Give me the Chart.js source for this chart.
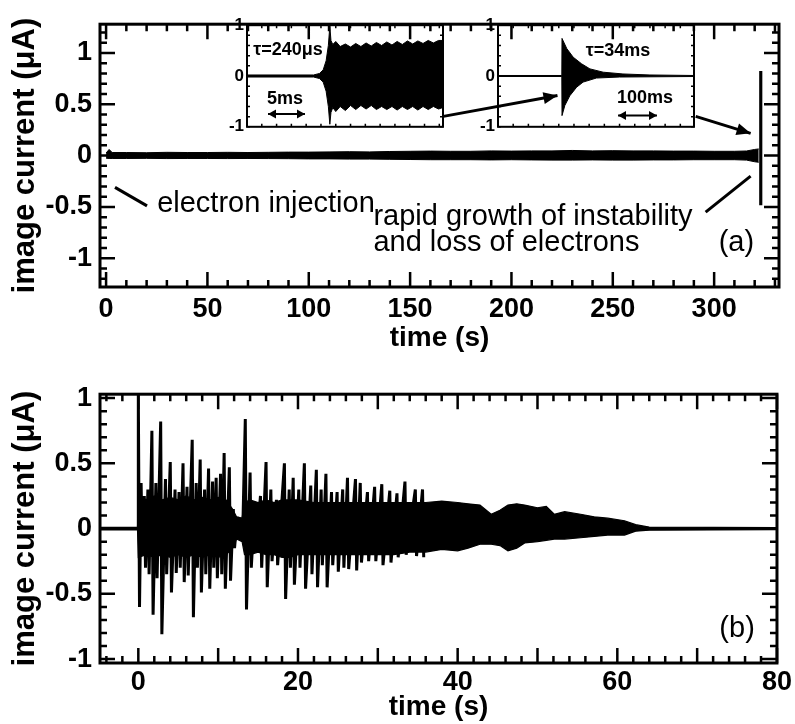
<!DOCTYPE html>
<html>
<head>
<meta charset="utf-8">
<script src="https://cdn.jsdelivr.net/npm/chart.js@4.4.1/dist/chart.umd.min.js"></script>
<style>
  html, body { margin: 0; padding: 0; background: #fff; }
  #wrap { position: relative; width: 795px; height: 724px; }
  canvas { position: absolute; }
</style>
</head>
<body>
<div id="wrap">
  <canvas id="runChart" width="795" height="365" style="left:0;top:0"></canvas>
  <canvas id="onsetInset" width="240" height="128" style="left:213px;top:12px"></canvas>
  <canvas id="lossInset" width="240" height="128" style="left:464px;top:12px"></canvas>
  <canvas id="decayChart" width="795" height="354" style="left:0;top:370px"></canvas>
</div>
<script>
// (a) whole run: envelope of the image current, then the final burst
const runTime  = [0, 1.5, 3, 10, 20, 30, 40, 50, 60, 70, 80, 90, 100, 110, 120, 130, 140, 150, 160, 170, 180, 190, 200, 210, 220, 230, 240, 250, 260, 270, 280, 290, 300, 310, 316, 320, 322];
const runUpper = [0.025, 0.06, 0.03, 0.03, 0.028, 0.032, 0.03, 0.03, 0.032, 0.03,
                  0.032, 0.034, 0.034, 0.036, 0.038, 0.036, 0.04, 0.042, 0.044, 0.042,
                  0.042, 0.046, 0.044, 0.046, 0.046, 0.05, 0.046, 0.048, 0.046, 0.046,
                  0.044, 0.044, 0.042, 0.042, 0.045, 0.06, 0.065];
const runLower = [-0.025, -0.028, -0.028, -0.028, -0.027, -0.029, -0.028, -0.028, -0.029, -0.028,
                  -0.029, -0.03, -0.032, -0.032, -0.034, -0.034, -0.036, -0.038, -0.04, -0.04,
                  -0.04, -0.042, -0.04, -0.042, -0.044, -0.044, -0.042, -0.044, -0.044, -0.042,
                  -0.042, -0.04, -0.04, -0.04, -0.044, -0.06, -0.065];
const burstTime  = 323;
const burstRange = [-0.48, 0.82];
const runTicks     = [0, 50, 100, 150, 200, 250, 300];
const currentTicks = [-1, -0.5, 0, 0.5, 1];

// inset: onset of the oscillation (time in ms)
const onsetTime  = [0, 9.0, 9.8, 10.3, 10.7, 11.0, 11.2, 11.35, 11.6, 12.0, 12.6, 13.3, 14.0, 14.7, 15.4, 16.1, 16.8, 17.5, 18.2, 18.9, 19.6, 20.3, 21.0, 21.7, 22.4, 23.1, 23.8, 24.5, 25.2, 25.9, 26.5];
const onsetUpper = [0.02, 0.02, 0.05, 0.12, 0.3, 0.6, 0.98, 0.7, 0.62, 0.68, 0.58, 0.63, 0.57, 0.64, 0.58, 0.65, 0.59, 0.66, 0.6, 0.67, 0.61, 0.68, 0.62, 0.69, 0.63, 0.69, 0.64, 0.7, 0.65, 0.7, 0.7];
const onsetLower = [-0.02, -0.02, -0.05, -0.12, -0.3, -0.6, -0.95, -0.72, -0.62, -0.7, -0.6, -0.68, -0.58, -0.66, -0.58, -0.65, -0.58, -0.66, -0.6, -0.66, -0.6, -0.67, -0.6, -0.66, -0.6, -0.67, -0.6, -0.66, -0.6, -0.65, -0.62];

// inset: burst at the end of the run (time in ms)
const lossUpperTime = [0, 168, 168.5, 181, 198, 220, 242, 277, 329, 400, 516];
const lossUpper     = [0.01, 0.01, 0.74, 0.54, 0.37, 0.24, 0.14, 0.075, 0.04, 0.02, 0.01];
const lossLowerTime = [0, 168, 168.5, 176, 189, 207, 224, 259, 320, 516];
const lossLower     = [-0.01, -0.01, -0.78, -0.58, -0.39, -0.22, -0.12, -0.04, -0.02, -0.01];
const insetTicks    = [-1, 0, 1];

// (b) decay after injection: dense core envelope ...
const decayTime  = [-4.8, -0.1, 0, 1, 2, 3, 4, 5, 6, 7, 8, 9, 10, 11, 11.8, 12.3, 13, 13.3,
                    14, 15, 16, 17, 18, 19, 20, 22, 24, 26, 28, 30, 32, 34, 36, 38, 40,
                    41.3, 42.8, 44.2, 45.3, 46.3, 47.4, 48.4, 50, 51.1, 52.1, 53.4, 55.4, 57.1, 58.8, 60.9, 62.3, 64, 80];
const decayUpper = [0.01, 0.01, 0.25, 0.22, 0.25, 0.22, 0.24, 0.22, 0.25, 0.22, 0.24, 0.22, 0.24, 0.22, 0.15, 0.09, 0.08, 0.2,
                    0.22, 0.2, 0.22, 0.2, 0.22, 0.22, 0.22, 0.2, 0.2, 0.2, 0.2, 0.2, 0.2, 0.2, 0.2, 0.21, 0.2,
                    0.19, 0.18, 0.11, 0.14, 0.18, 0.19, 0.18, 0.16, 0.17, 0.11, 0.13, 0.11, 0.09, 0.08, 0.06, 0.03, 0.012, 0.008];
const decayLower = [-0.01, -0.01, -0.22, -0.2, -0.22, -0.2, -0.22, -0.2, -0.22, -0.2, -0.22, -0.2, -0.22, -0.2, -0.15, -0.08, -0.1, -0.2,
                    -0.2, -0.18, -0.2, -0.2, -0.22, -0.22, -0.2, -0.2, -0.2, -0.2, -0.2, -0.2, -0.2, -0.18, -0.18, -0.16, -0.17,
                    -0.15, -0.12, -0.12, -0.13, -0.17, -0.15, -0.11, -0.1, -0.09, -0.08, -0.08, -0.07, -0.06, -0.05, -0.05, -0.02, -0.012, -0.008];
// ... and the individual swings: maximum and minimum of each visible cycle
const spikeTime = [0, 0.35, 0.75, 1.2, 1.7, 2.2, 2.8, 3.4, 4.0, 4.6,
                   5.1, 5.6, 6.1, 6.75, 7.25, 7.75, 8.3, 8.8, 9.3, 9.75,
                   10.3, 10.75, 11.4, 11.9, 12.4, 12.9, 13.4, 14.0, 14.6, 15.3,
                   16.0, 16.6, 17.3, 18.3, 18.9, 19.4, 20.1, 20.8, 21.6, 22.3,
                   22.9, 23.5, 24.2, 24.9, 25.6, 26.2, 27.2, 27.8, 28.7, 29.6,
                   30.5, 31.5, 32.4, 33.4, 34.7, 35.6];
const spikeHigh = [1.03, 0.35, 0.25, 0.3, 0.75, 0.35, 0.82, 0.38, 0.51, 0.3,
                   0.28, 0.5, 0.32, 0.68, 0.35, 0.53, 0.3, 0.46, 0.36, 0.39,
                   0.42, 0.58, 0.47, 0.15, 0.09, 0.08, 0.84, 0.43, 0.2, 0.25,
                   0.51, 0.3, 0.22, 0.5, 0.3, 0.39, 0.3, 0.5, 0.33, 0.45,
                   0.3, 0.42, 0.28, 0.28, 0.3, 0.39, 0.38, 0.35, 0.28, 0.32,
                   0.34, 0.29, 0.27, 0.36, 0.3, 0.3];
const spikeLow  = [-0.6, -0.2, -0.3, -0.35, -0.66, -0.38, -0.81, -0.35, -0.49, -0.34,
                   -0.3, -0.41, -0.36, -0.68, -0.3, -0.49, -0.35, -0.46, -0.3, -0.38,
                   -0.35, -0.46, -0.4, -0.15, -0.08, -0.1, -0.62, -0.3, -0.18, -0.3,
                   -0.45, -0.25, -0.28, -0.54, -0.3, -0.43, -0.3, -0.46, -0.35, -0.45,
                   -0.28, -0.45, -0.28, -0.33, -0.3, -0.31, -0.32, -0.26, -0.25, -0.25,
                   -0.28, -0.26, -0.22, -0.2, -0.21, -0.22];
const decayTicks = [0, 20, 40, 60, 80];

const FONT = "'Liberation Sans', Arial, Helvetica, sans-serif";
const tickFont  = { family: FONT, size: 27, weight: 'bold' };
const titleFont = { family: FONT, size: 28, weight: 'bold', lineHeight: 1.0 };
const yTitleFont = { family: FONT, size: 31, weight: 'bold', lineHeight: 1.0 };

const pts = (xs, ys) => xs.map((x, i) => ({ x, y: ys[i] }));

// filled band between an upper and a lower trace
function band(xHi, hi, xLo, lo, width) {
  return [
    { data: pts(xHi, hi), borderColor: '#000', backgroundColor: '#000', borderWidth: width, pointRadius: 0, tension: 0, fill: '+1' },
    { data: pts(xLo, lo), borderColor: '#000', borderWidth: width, pointRadius: 0, tension: 0, fill: false }
  ];
}

// each swing goes up to its maximum, then down to its minimum
const swing = [{ x: 0, y: 0 }].concat(
  spikeTime.flatMap((t, i) => [{ x: t, y: spikeHigh[i] }, { x: t + 0.15, y: spikeLow[i] }])
);

// box frame with inward ticks on all four sides
const frameTicks = {
  id: 'frameTicks',
  afterDatasetsDraw(chart, args, o) {
    const { ctx, chartArea: a, scales: { x, y } } = chart;
    ctx.save();
    ctx.strokeStyle = '#000';
    ctx.lineWidth = o.tickWidth;
    ctx.beginPath();
    for (let k = Math.ceil(x.min / o.xMinor - 1e-6); k * o.xMinor <= x.max + 1e-6; k++) {
      const px = x.getPixelForValue(k * o.xMinor);
      const len = k % o.xEvery === 0 ? o.major : o.minor;
      ctx.moveTo(px, a.bottom); ctx.lineTo(px, a.bottom - len);
      ctx.moveTo(px, a.top); ctx.lineTo(px, a.top + len);
    }
    for (let k = Math.ceil(y.min / o.yMinor - 1e-6); k * o.yMinor <= y.max + 1e-6; k++) {
      const py = y.getPixelForValue(k * o.yMinor);
      const len = k % o.yEvery === 0 ? o.major : o.minor;
      ctx.moveTo(a.left, py); ctx.lineTo(a.left + len, py);
      ctx.moveTo(a.right, py); ctx.lineTo(a.right - len, py);
    }
    ctx.stroke();
    ctx.lineWidth = o.frameWidth;
    ctx.strokeRect(a.left, a.top, a.right - a.left, a.bottom - a.top);
    ctx.restore();
  }
};

function arrowHead(ctx, x0, y0, x1, y1, len, half) {
  const ang = Math.atan2(y1 - y0, x1 - x0);
  ctx.beginPath();
  ctx.moveTo(x1, y1);
  ctx.lineTo(x1 - len * Math.cos(ang) + half * Math.sin(ang), y1 - len * Math.sin(ang) - half * Math.cos(ang));
  ctx.lineTo(x1 - len * Math.cos(ang) - half * Math.sin(ang), y1 - len * Math.sin(ang) + half * Math.cos(ang));
  ctx.closePath();
  ctx.fill();
}

// text, pointer lines and arrows placed in data units
const notes = {
  id: 'notes',
  afterDraw(chart, args, o) {
    const { ctx, scales: { x, y } } = chart;
    const P = p => [x.getPixelForValue(p[0]), y.getPixelForValue(p[1])];
    ctx.save();
    ctx.fillStyle = '#000';
    ctx.strokeStyle = '#000';
    (o.lines || []).forEach(l => {
      const [x0, y0] = P(l.from), [x1, y1] = P(l.to);
      ctx.lineWidth = l.width;
      ctx.beginPath();
      ctx.moveTo(x0, y0);
      ctx.lineTo(x1, y1);
      ctx.stroke();
      if (l.head) arrowHead(ctx, x0, y0, x1, y1, l.head[0], l.head[1]);
      if (l.both) arrowHead(ctx, x1, y1, x0, y0, l.head[0], l.head[1]);
    });
    (o.texts || []).forEach(t => {
      const [px, py] = P(t.at);
      ctx.font = t.font;
      ctx.textAlign = t.align || 'left';
      ctx.textBaseline = 'middle';
      ctx.fillText(t.text, px, py);
    });
    ctx.restore();
  }
};

const baseOptions = {
  responsive: false,
  devicePixelRatio: 1,
  animation: false,
  events: []
};

// ---------- (a) ----------
new Chart(document.getElementById('runChart'), {
  type: 'line',
  data: {
    datasets: [
      ...band(runTime, runUpper, runTime, runLower, 1),
      { type: 'bar', data: [{ x: burstTime, y: burstRange }], backgroundColor: '#000', barThickness: 2.5, grouped: false }
    ]
  },
  options: {
    ...baseOptions,
    layout: { padding: { top: 10, right: 16, left: 0, bottom: 0 }, autoPadding: false },
    plugins: {
      legend: { display: false },
      tooltip: { enabled: false },
      frameTicks: { xMinor: 10, xEvery: 5, yMinor: 0.1, yEvery: 5, major: 15, minor: 7, tickWidth: 2.5, frameWidth: 3 },
      notes: {
        lines: [
          { from: [166.4, 0.382], to: [222.7, 0.585], width: 3, head: [14, 6] },
          { from: [290.9, 0.382], to: [318, 0.217], width: 3, head: [14, 6] },
          { from: [4.4, -0.31], to: [20.2, -0.49], width: 3 },
          { from: [295.8, -0.55], to: [318, -0.2], width: 3 }
        ],
        texts: [
          { text: 'electron injection', at: [25.2, -0.475], font: `29px ${FONT}` },
          { text: 'rapid growth of instability', at: [131.9, -0.6], font: `29px ${FONT}` },
          { text: 'and loss of electrons', at: [131.9, -0.85], font: `29px ${FONT}` },
          { text: '(a)', at: [311, -0.85], font: `29px ${FONT}`, align: 'center' }
        ]
      }
    },
    scales: {
      x: {
        type: 'linear', min: -3, max: 332, offset: false,
        afterBuildTicks: s => { s.ticks = runTicks.map(v => ({ value: v })); },
        afterFit: s => { s.height = 78; },
        ticks: { font: tickFont, color: '#000', padding: 6, maxRotation: 0, autoSkip: false, callback: v => String(v) },
        grid: { display: false, drawTicks: false },
        border: { display: false },
        title: { display: true, text: 'time (s)', color: '#000', font: titleFont, padding: { top: 0, bottom: 13 } }
      },
      y: {
        type: 'linear', min: -1.28, max: 1.28,
        afterBuildTicks: s => { s.ticks = currentTicks.map(v => ({ value: v })); },
        afterFit: s => { s.width = 100; },
        ticks: { font: tickFont, color: '#000', padding: 8, callback: v => String(v) },
        grid: { display: false, drawTicks: false },
        border: { display: false },
        title: { display: true, text: 'image current (\u03bcA)', color: '#000', font: yTitleFont, padding: { top: 10, bottom: 0 } }
      }
    }
  },
  plugins: [frameTicks, notes]
});

// ---------- insets ----------
function inset(id, datasets, xMax, xMinor, noteLines, noteTexts) {
  return new Chart(document.getElementById(id), {
    type: 'line',
    data: { datasets },
    options: {
      ...baseOptions,
      layout: { padding: { top: 13, right: 10, left: 0, bottom: 12 }, autoPadding: false },
      plugins: {
        legend: { display: false },
        tooltip: { enabled: false },
        frameTicks: { xMinor, xEvery: 1000, yMinor: 0.2, yEvery: 1000, major: 3, minor: 3, tickWidth: 1.5, frameWidth: 2 },
        notes: { lines: noteLines, texts: noteTexts }
      },
      scales: {
        x: { type: 'linear', min: 0, max: xMax, display: false },
        y: {
          type: 'linear', min: -1, max: 1,
          afterBuildTicks: s => { s.ticks = insetTicks.map(v => ({ value: v })); },
          afterFit: s => { s.width = 34; },
          ticks: { font: { family: FONT, size: 17, weight: 'bold' }, color: '#000', padding: 3, callback: v => String(v) },
          grid: { display: false, drawTicks: false },
          border: { display: false }
        }
      }
    },
    plugins: [frameTicks, notes]
  });
}

inset('onsetInset', band(onsetTime, onsetUpper, onsetTime, onsetLower, 1), 26.5, 2,
  [{ from: [2.84, -0.75], to: [7.84, -0.75], width: 2, head: [8, 4.5], both: true }],
  [
    { text: '\u03c4=240\u03bcs', at: [5.54, 0.51], font: `bold 18px ${FONT}`, align: 'center' },
    { text: '5ms', at: [5.14, -0.46], font: `bold 18px ${FONT}`, align: 'center' }
  ]);

inset('lossInset', band(lossUpperTime, lossUpper, lossLowerTime, lossLower, 1), 516, 40,
  [{ from: [316, -0.78], to: [418.6, -0.78], width: 2, head: [8, 4.5], both: true }],
  [
    { text: '\u03c4=34ms', at: [316, 0.5], font: `bold 18px ${FONT}`, align: 'center' },
    { text: '100ms', at: [387, -0.43], font: `bold 18px ${FONT}`, align: 'center' }
  ]);

// ---------- (b) ----------
new Chart(document.getElementById('decayChart'), {
  type: 'line',
  data: {
    datasets: [
      ...band(decayTime, decayUpper, decayTime, decayLower, 1.2),
      { data: swing, borderColor: '#000', borderWidth: 3, pointRadius: 0, tension: 0, fill: false }
    ]
  },
  options: {
    ...baseOptions,
    layout: { padding: { top: 18, right: 17, left: 0, bottom: 0 }, autoPadding: false },
    plugins: {
      legend: { display: false },
      tooltip: { enabled: false },
      frameTicks: { xMinor: 2, xEvery: 5, yMinor: 0.1, yEvery: 5, major: 15, minor: 7, tickWidth: 2.5, frameWidth: 3 },
      notes: { texts: [{ text: '(b)', at: [75, -0.77], font: `29px ${FONT}`, align: 'center' }] }
    },
    scales: {
      x: {
        type: 'linear', min: -4.8, max: 80, offset: false,
        afterBuildTicks: s => { s.ticks = decayTicks.map(v => ({ value: v })); },
        afterFit: s => { s.height = 61; },
        ticks: { font: tickFont, color: '#000', padding: 3, maxRotation: 0, autoSkip: false, callback: v => String(v) },
        grid: { display: false, drawTicks: false },
        border: { display: false },
        title: { display: true, text: 'time (s)', color: '#000', font: titleFont, padding: { top: 0, bottom: 3 } }
      },
      y: {
        type: 'linear', min: -1.03, max: 1.03,
        afterBuildTicks: s => { s.ticks = currentTicks.map(v => ({ value: v })); },
        afterFit: s => { s.width = 100; },
        ticks: { font: tickFont, color: '#000', padding: 8, callback: v => String(v) },
        grid: { display: false, drawTicks: false },
        border: { display: false },
        title: { display: true, text: 'image current (\u03bcA)', color: '#000', font: yTitleFont, padding: { top: 10, bottom: 0 } }
      }
    }
  },
  plugins: [frameTicks, notes]
});
</script>
</body>
</html>
